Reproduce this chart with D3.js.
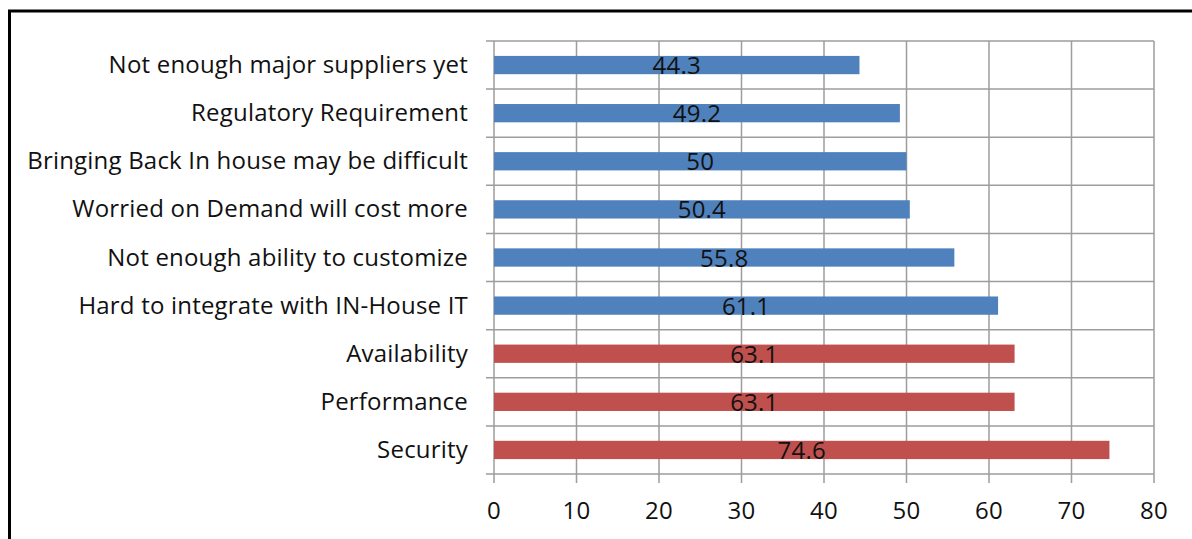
<!DOCTYPE html>
<html>
<head>
<meta charset="utf-8">
<script src="https://cdn.jsdelivr.net/npm/d3@7"></script>
<style>
  body { margin: 0; background: #fff; }
  svg text { font-family: "Open Sans", Lato, sans-serif; fill: #111; letter-spacing: 0.2px; }
</style>
</head>
<body>
<svg id="chart" width="1192" height="539"></svg>
<script>
'use strict';

// categories top -> bottom
var categories = [
  'Not enough major suppliers yet',
  'Regulatory Requirement',
  'Bringing Back In house may be difficult',
  'Worried on Demand will cost more',
  'Not enough ability to customize',
  'Hard to integrate with IN-House IT',
  'Availability',
  'Performance',
  'Security'
];
var values = [44.3, 49.2, 50, 50.4, 55.8, 61.1, 63.1, 63.1, 74.6];
var groups = ['blue', 'blue', 'blue', 'blue', 'blue', 'blue', 'red', 'red', 'red'];
var xTicks = [0, 10, 20, 30, 40, 50, 60, 70, 80];

var colors = { blue: '#4f81bd', red: '#c0504d' };
var fontSize = 24;

var svg = d3.select('#chart');
var plot = { left: 494, right: 1154, top: 41, bottom: 474 };

var x = d3.scaleLinear().domain([0, 80]).range([plot.left, plot.right]);
var y = d3.scaleBand().domain(categories).range([plot.top, plot.bottom]).paddingInner(0.62).paddingOuter(0.31);

// outer frame (only top and left visible)
svg.append('path')
  .attr('d', 'M9.5,539 V11 H1192')
  .attr('fill', 'none')
  .attr('stroke', '#000')
  .attr('stroke-width', 3);

var grid = svg.append('g');
// vertical gridlines
grid.selectAll('line.v').data(xTicks).enter().append('line')
  .attr('class', 'v')
  .attr('x1', function (d) { return x(d); })
  .attr('x2', function (d) { return x(d); })
  .attr('y1', plot.top)
  .attr('y2', plot.bottom + 9)
  .attr('stroke', '#9d9d9d')
  .attr('stroke-width', 1.5);

// horizontal gridlines at category boundaries
var step = (plot.bottom - plot.top) / categories.length;
var bounds = d3.range(categories.length + 1).map(function (i) { return plot.top + i * step; });
grid.selectAll('line.h').data(bounds).enter().append('line')
  .attr('class', 'h')
  .attr('x1', plot.left - 8)
  .attr('x2', plot.right)
  .attr('y1', function (d) { return d; })
  .attr('y2', function (d) { return d; })
  .attr('stroke', '#9d9d9d')
  .attr('stroke-width', 1.5);

// bars
svg.append('g').selectAll('rect').data(values).enter().append('rect')
  .attr('x', x(0))
  .attr('y', function (d, i) { return y(categories[i]); })
  .attr('width', function (d) { return x(d) - x(0); })
  .attr('height', y.bandwidth())
  .attr('fill', function (d, i) { return colors[groups[i]]; });

// value labels
svg.append('g').selectAll('text').data(values).enter().append('text')
  .attr('x', function (d) { return (x(0) + x(d)) / 2; })
  .attr('y', function (d, i) { return y(categories[i]) + y.bandwidth() / 2 + 9; })
  .attr('text-anchor', 'middle')
  .attr('font-size', fontSize)
  .text(function (d) { return d; });

// category labels
svg.append('g').selectAll('text').data(categories).enter().append('text')
  .attr('x', 468)
  .attr('y', function (d) { return y(d) + y.bandwidth() / 2 + 8; })
  .attr('text-anchor', 'end')
  .attr('font-size', fontSize)
  .text(function (d) { return d; });

// x axis tick labels
svg.append('g').selectAll('text').data(xTicks).enter().append('text')
  .attr('x', function (d) { return x(d); })
  .attr('y', 519)
  .attr('text-anchor', 'middle')
  .attr('font-size', fontSize)
  .text(function (d) { return d; });
</script>
</body>
</html>
